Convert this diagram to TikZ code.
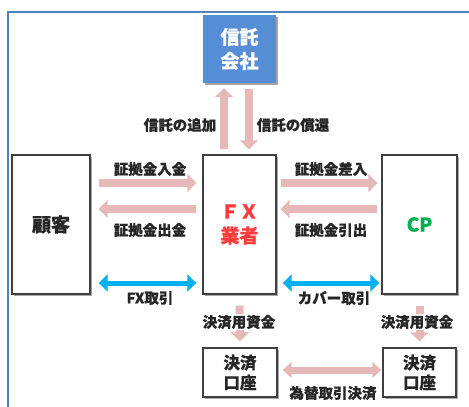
\documentclass[tikz,border=0pt]{standalone}
\usepackage{fontspec}
\setmainfont{Noto Sans CJK JP}[BoldFeatures={FakeBold=0.5}]
\usetikzlibrary{arrows.meta,shadows}
\definecolor{frameblue}{HTML}{4F81BD}
\definecolor{trustblue}{HTML}{558ED5}
\definecolor{arrowpink}{HTML}{E6B9B8}
\definecolor{arrowblue}{HTML}{00B0F0}
\definecolor{fxred}{HTML}{FF3B3B}
\definecolor{cpgreen}{HTML}{00B050}
\definecolor{boxgray}{HTML}{404040}
\definecolor{labelc}{HTML}{262626}
\begin{document}
\begin{tikzpicture}[x=1pt,y=-1pt,
  box/.style={draw=boxgray, line width=1.4pt, fill=white, inner sep=0pt,
    drop shadow={shadow xshift=1.8pt,shadow yshift=-1.8pt,opacity=0.35,fill=black}},
  bigtext/.style={font=\fontsize{19}{24}\selectfont\bfseries, align=center},
  acctext/.style={font=\fontsize{16.5}{20}\selectfont\bfseries, align=center, text=labelc},
  lbl/.style={font=\fontsize{14.5}{16}\selectfont\bfseries, text=labelc, inner sep=1pt},
  pinkarrow/.style={draw=arrowpink, line width=8pt, -{Triangle[width=18pt,length=9pt]}},
  pinkdouble/.style={draw=arrowpink, line width=7pt, {Triangle[width=16pt,length=9pt]}-{Triangle[width=16pt,length=9pt]}},
  bluedouble/.style={draw=arrowblue, line width=5pt, {Triangle[width=17pt,length=9pt]}-{Triangle[width=17pt,length=9pt]}}
]
\useasboundingbox (0,0) rectangle (469,407);
\fill[white] (0,0) rectangle (469,407);
\draw[frameblue, line width=2pt] (8,408) -- (8,12) -- (470,12);

% nodes
\node[fill=trustblue, minimum width=73pt, minimum height=68pt, inner sep=0pt,
  drop shadow={shadow xshift=1.8pt,shadow yshift=-1.8pt,opacity=0.35,fill=black},
  bigtext, text=white] (trust) at (239.5,49) {信託\\会社};
\node[box, minimum width=78pt, minimum height=139pt, bigtext, text=labelc] (cust) at (51,224.5) {顧客};
\node[box, minimum width=73pt, minimum height=139pt, bigtext, text=fxred] (fx) at (239.5,224.5) {ＦＸ\\業者};
\node[box, minimum width=75pt, minimum height=139pt, bigtext, text=cpgreen] (cp) at (419.5,224.5) {CP};
\node[box, minimum width=74pt, minimum height=49pt, acctext] (accA) at (240,372.5) {決済\\口座};
\node[box, minimum width=73pt, minimum height=49pt, acctext] (accB) at (419.5,372.5) {決済\\口座};

% trust arrows
\draw[pinkarrow, shorten <=5pt, shorten >=5pt] ([xshift=-15.5pt]fx.north) -- ([xshift=-15.5pt]trust.south);
\draw[pinkarrow, shorten <=6pt, shorten >=5pt] ([xshift=9.5pt]trust.south) -- ([xshift=9.5pt]fx.north);

% customer <-> FX
\draw[pinkarrow, shorten <=8pt, shorten >=6pt] ([yshift=41.5pt]cust.east) -- ([yshift=41.5pt]fx.west);
\draw[pinkarrow, shorten <=6pt, shorten >=8pt] ([yshift=15.5pt]fx.west) -- ([yshift=15.5pt]cust.east);
\draw[bluedouble, shorten <=8pt, shorten >=6pt] ([yshift=-58.5pt]cust.east) -- ([yshift=-58.5pt]fx.west);

% FX <-> CP
\draw[pinkarrow, shorten <=4pt, shorten >=4pt] ([yshift=41.5pt]fx.east) -- ([yshift=41.5pt]cp.west);
\draw[pinkarrow, shorten <=4pt, shorten >=4pt] ([yshift=15.5pt]cp.west) -- ([yshift=15.5pt]fx.east);
\draw[bluedouble, shorten <=6pt, shorten >=2pt] ([yshift=-58.5pt]fx.east) -- ([yshift=-58.5pt]cp.west);

% down to accounts
\draw[pinkarrow, shorten <=11pt, shorten >=6pt] (fx.south) -- (accA.north);
\draw[pinkarrow, shorten <=11pt, shorten >=6pt] (cp.south) -- (accB.north);

% accounts
\draw[pinkdouble, shorten <=5pt, shorten >=1pt] ([yshift=2.5pt]accA.east) -- ([yshift=2.5pt]accB.west);

% labels
\node[lbl] (l1) at (180,125) {信託の追加};
\node[lbl] (l2) at (293,125) {信託の償還};
\node[lbl] (l3) at (150,169) {証拠金入金};
\node[lbl] (l4) at (150,230) {証拠金出金};
\node[lbl] (l5) at (150,298) {FX取引};
\node[lbl] (l6) at (331,169) {証拠金差入};
\node[lbl] (l7) at (331,230) {証拠金引出};
\node[lbl] (l8) at (334,298) {カバー取引};
\node[lbl, fill=white] (l9) at (239,322) {決済用資金};
\node[lbl, fill=white] (l10) at (417,322) {決済用資金};
\node[lbl] (l11) at (333,393) {為替取引決済};
\end{tikzpicture}
\end{document}
